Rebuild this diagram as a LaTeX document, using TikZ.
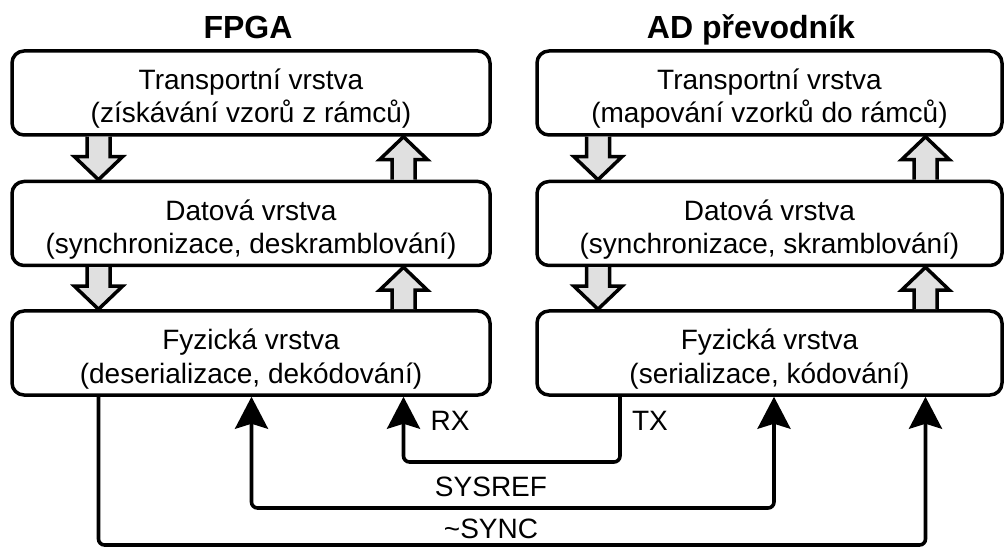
\documentclass[tikz,border=0pt]{standalone}
\usepackage{fontspec}
\setmainfont{Liberation Sans}
\usetikzlibrary{arrows.meta,calc}

\definecolor{blockfill}{RGB}{224,224,224}

% fixed height of the first text line and depth of the last one
\newcommand\topline{\rule{0pt}{33pt}}
\newcommand\botline{\rule[-6pt]{0pt}{6pt}}

\tikzset{
  layer/.style={draw, line width=3.5pt, rounded corners=12pt, fill=white,
    minimum height=84pt, align=center, inner sep=0pt,
    font=\fontsize{28}{33}\selectfont},
  title/.style={anchor=base, font=\bfseries\fontsize{32}{36}\selectfont},
  lbl/.style={anchor=base, font=\fontsize{28}{33}\selectfont},
  blockarrow/.style={draw, line width=3.5pt, fill=blockfill, line join=miter},
  conn/.style={line width=3.6pt, rounded corners=6pt},
  head/.tip={Stealth[length=32pt,width=33pt,inset=5pt]},
  tip/.style={-head},
  tips/.style={head-head},
}

% block arrow from node #2 down to node #3 at horizontal position #1
\newcommand\blockdown[3]{%
  \path (#3.north) ++(0,-23) coordinate (hb);
  \draw[blockarrow]
    (#1-11.5,0 |- #2.south) -- (#1-11.5,0 |- hb)
    -- (#1-24,0 |- hb) -- (#1,0 |- #3.north)
    -- (#1+24,0 |- hb) -- (#1+11.5,0 |- hb)
    -- (#1+11.5,0 |- #2.south);}
% block arrow from node #3 up to node #2 at horizontal position #1
\newcommand\blockup[3]{%
  \path (#2.south) ++(0,23) coordinate (hb);
  \draw[blockarrow]
    (#1-11.5,0 |- #3.north) -- (#1-11.5,0 |- hb)
    -- (#1-24,0 |- hb) -- (#1,0 |- #2.south)
    -- (#1+24,0 |- hb) -- (#1+11.5,0 |- hb)
    -- (#1+11.5,0 |- #3.north);}

\begin{document}
\begin{tikzpicture}[x=1pt, y=-1pt]
\useasboundingbox (0,0) rectangle (1005,548);

% headings
\node[title] (fpga) at (248,39) {FPGA};
\node[title] (adc) at (751,39) {AD převodník};

% FPGA layers
\node[layer, minimum width=478pt] (l1) at (251,93)
  {\topline Transportní vrstva\\(získávání vzorů z rámců)\botline};
\node[layer, minimum width=478pt] (l2) at (251,223.5)
  {\topline Datová vrstva\\(synchronizace, deskramblování)\botline};
\node[layer, minimum width=478pt] (l3) at (251,353)
  {\topline Fyzická vrstva\\(deserializace, dekódování)\botline};

% converter layers
\node[layer, minimum width=465pt] (r1) at (769.5,93)
  {\topline Transportní vrstva\\(mapování vzorků do rámců)\botline};
\node[layer, minimum width=465pt] (r2) at (769.5,223.5)
  {\topline Datová vrstva\\(synchronizace, skramblování)\botline};
\node[layer, minimum width=465pt] (r3) at (769.5,353)
  {\topline Fyzická vrstva\\(serializace, kódování)\botline};

% data flow between layers
\blockdown{98.5}{l1}{l2}
\blockdown{98.5}{l2}{l3}
\blockup{403.5}{l1}{l2}
\blockup{403.5}{l2}{l3}
\blockdown{598}{r1}{r2}
\blockdown{598}{r2}{r3}
\blockup{925.5}{r1}{r2}
\blockup{925.5}{r2}{r3}

% corner points of the links
\coordinate (syncL) at (98.5,545);
\coordinate (syncR) at (925.5,545);
\coordinate (srefL) at (251.5,508);
\coordinate (srefR) at (774,508);
\coordinate (rxC) at (403.5,462);
\coordinate (txC) at (620,462);

% links
\draw[conn, tip] (syncL |- l3.south) -- (syncL) -- (syncR) -- (syncR |- r3.south);
\draw[conn, tips] (srefL |- l3.south) -- (srefL) -- (srefR) -- (srefR |- r3.south);
\draw[conn, tip] (txC |- r3.south) -- (txC) -- (rxC) -- (rxC |- l3.south);

% link labels
\node[lbl] (rx) at (450,430) {RX};
\node[lbl] (tx) at (650,430) {TX};
\node[lbl] (sysref) at (491,496) {SYSREF};
\node[lbl] (sync) at (491,538) {\textasciitilde SYNC};
\end{tikzpicture}
\end{document}
